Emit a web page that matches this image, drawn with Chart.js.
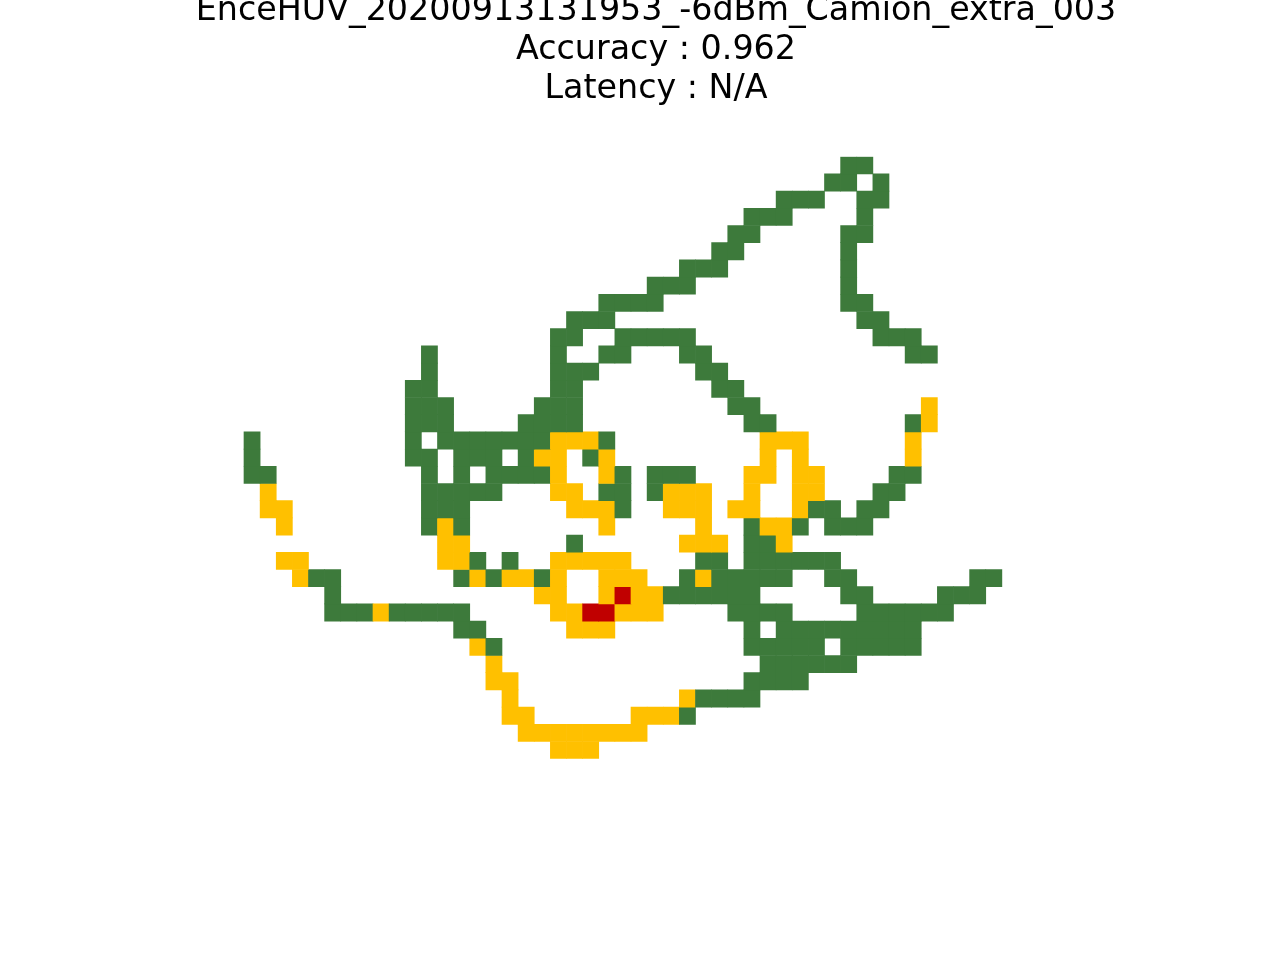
<!DOCTYPE html>
<html>
<head>
<meta charset="utf-8">
<script src="https://cdn.jsdelivr.net/npm/chart.js@4.4.1/dist/chart.umd.min.js"></script>
<style>
  html, body { margin: 0; padding: 0; background: #ffffff; }
  #wrap { width: 1280px; height: 960px; }
</style>
</head>
<body>
<div id="wrap"><canvas id="chart" width="1280" height="960"></canvas></div>
<script>
// ---- Chart text ----
const titleLines = [
  'EnceHUV_20200913131953_-6dBm_Camion_extra_003',
  'Accuracy : 0.962',
  'Latency : N/A'
];

// ---- Grid size (rows x columns of cells) ----
const nRows = 35;
const nCols = 47;
const colIndex = Array.from({ length: nCols }, (_, i) => i);

// ---- Cells per row (column indices), one list per row, top row first ----
const greenCols = [
  [37, 38],
  [36, 37, 39],
  [33, 34, 35, 38, 39],
  [31, 32, 33, 38],
  [30, 31, 37, 38],
  [29, 30, 37],
  [27, 28, 29, 37],
  [25, 26, 27, 37],
  [22, 23, 24, 25, 37, 38],
  [20, 21, 22, 38, 39],
  [19, 20, 23, 24, 25, 26, 27, 39, 40, 41],
  [11, 19, 22, 23, 27, 28, 41, 42],
  [11, 19, 20, 21, 28, 29],
  [10, 11, 19, 20, 29, 30],
  [10, 11, 12, 18, 19, 20, 30, 31],
  [10, 11, 12, 17, 18, 19, 20, 31, 32, 41],
  [0, 10, 12, 13, 14, 15, 16, 17, 18, 22],
  [0, 10, 11, 13, 14, 15, 17, 21],
  [0, 1, 11, 13, 15, 16, 17, 18, 23, 25, 26, 27, 40, 41],
  [11, 12, 13, 14, 15, 22, 23, 25, 39, 40],
  [11, 12, 13, 23, 35, 36, 38, 39],
  [11, 13, 31, 34, 36, 37, 38],
  [20, 31, 32],
  [14, 16, 28, 29, 31, 32, 33, 34, 35, 36],
  [4, 5, 13, 15, 18, 27, 29, 30, 31, 32, 33, 36, 37, 45, 46],
  [5, 26, 27, 28, 29, 30, 31, 37, 38, 43, 44, 45],
  [5, 6, 7, 9, 10, 11, 12, 13, 30, 31, 32, 33, 38, 39, 40, 41, 42, 43],
  [13, 14, 31, 33, 34, 35, 36, 37, 38, 39, 40, 41],
  [15, 31, 32, 33, 34, 35, 37, 38, 39, 40, 41],
  [32, 33, 34, 35, 36, 37],
  [31, 32, 33, 34],
  [28, 29, 30, 31],
  [27],
  [],
  []
];

const yellowCols = [
  [], [], [], [], [], [], [], [], [], [], [], [], [], [],
  [42],
  [42],
  [19, 20, 21, 32, 33, 34, 41],
  [18, 19, 22, 32, 34, 41],
  [19, 22, 31, 32, 34, 35],
  [1, 19, 20, 26, 27, 28, 31, 34, 35],
  [1, 2, 20, 21, 22, 26, 27, 28, 30, 31, 34],
  [2, 12, 22, 28, 32, 33],
  [12, 13, 27, 28, 29, 33],
  [2, 3, 12, 13, 19, 20, 21, 22, 23],
  [3, 14, 16, 17, 19, 22, 23, 24, 28],
  [18, 19, 22, 24, 25],
  [8, 19, 20, 23, 24, 25],
  [20, 21, 22],
  [14],
  [15],
  [15, 16],
  [16, 27],
  [16, 17, 24, 25, 26],
  [17, 18, 19, 20, 21, 22, 23, 24],
  [19, 20, 21]
];

const redCols = [
  [], [], [], [], [], [], [], [], [], [], [], [], [], [], [], [], [], [], [], [],
  [], [], [], [], [],
  [23],
  [21, 22],
  [], [], [], [], [], [], [], []
];

// ---- Colours ----
const GREEN = 'rgb(61,122,59)';
const YELLOW = 'rgb(255,192,0)';
const RED = 'rgb(192,0,0)';
const EMPTY = 'rgba(255,255,255,0)';

function cellColor(r, c) {
  if (redCols[r].includes(c)) return RED;
  if (yellowCols[r].includes(c)) return YELLOW;
  if (greenCols[r].includes(c)) return GREEN;
  return EMPTY;
}

// one stacked dataset per grid row: each column contributes one cell of height 1
const datasets = [];
for (let r = 0; r < nRows; r++) {
  datasets.push({
    label: 'row ' + r,
    data: colIndex.map(c => ({ x: c, y: 1 })),
    backgroundColor: colIndex.map(c => cellColor(r, c)),
    borderWidth: 0,
    barPercentage: 1,
    categoryPercentage: 1,
    stack: 'grid'
  });
}

new Chart(document.getElementById('chart'), {
  type: 'bar',
  data: { datasets: datasets },
  options: {
    responsive: false,
    animation: false,
    events: [],
    layout: { padding: { left: 160, right: 128, top: 0, bottom: 201.3 } },
    plugins: {
      legend: { display: false },
      tooltip: { enabled: false },
      title: {
        display: true,
        text: titleLines,
        color: '#000000',
        font: { family: 'DejaVu Sans', size: 33.33, weight: 'normal', lineHeight: 1.176 },
        padding: { top: -8.4, bottom: 47.47 }
      }
    },
    scales: {
      x: {
        type: 'linear', display: false, stacked: true, offset: false,
        min: -5.709, max: 55.81,
        ticks: { includeBounds: false },
        grid: { display: false }
      },
      y: { display: false, stacked: true, min: 0, max: nRows, reverse: true, grid: { display: false } }
    }
  }
});
</script>
</body>
</html>
